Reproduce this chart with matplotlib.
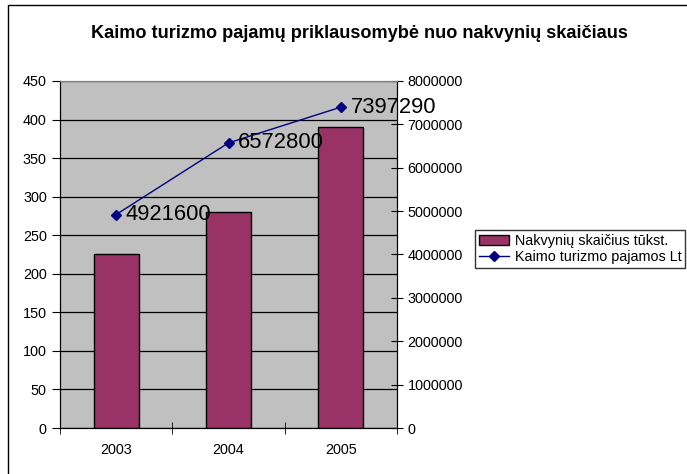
import matplotlib
matplotlib.use("Agg")
import matplotlib.pyplot as plt
from matplotlib.patches import Rectangle
from matplotlib.ticker import FuncFormatter
import numpy as np

years = ["2003", "2004", "2005"]
nakvynes = [225, 280, 390]
pajamos = [4921600, 6572800, 7397290]

plt.rcParams['font.family'] = ['Liberation Sans', 'DejaVu Sans']

fig = plt.figure(figsize=(6.87, 4.74), dpi=100)
ax = fig.add_axes([60/687, 1-428/474, 337/687, 347/474])
ax2 = ax.twinx()

# frame around the chart
fig.patches.append(Rectangle((8/687, -0.05), 1.2, 1-5/474+0.05, transform=fig.transFigure,
                             fill=False, edgecolor='black', linewidth=1, zorder=0))

x = np.arange(len(years))
ax.set_facecolor('#C0C0C0')
bars = ax.bar(x, nakvynes, width=0.4, color='#993366', edgecolor='black', linewidth=1,
              label='Nakvynių skaičius tūkst.', zorder=3)
ax.set_ylim(0, 450)
ax.set_yticks(np.arange(0, 451, 50))
ax.set_xlim(-0.5, 2.5)
ax.set_xticks(x)
ax.set_xticklabels(years)
ax.set_xticks([-0.5, 0.5, 1.5, 2.5], minor=True)
ax.tick_params(axis='x', which='major', length=0, pad=11, labelsize=10.4)
ax.tick_params(axis='x', which='minor', direction='inout', length=8)
ax.tick_params(axis='y', direction='out', length=6, labelsize=10.4)
ax.grid(axis='y', color='black', linewidth=0.9, zorder=1)
ax.set_axisbelow(True)

line, = ax2.plot(x, pajamos, color='#000080', marker='D', markersize=4.8, linewidth=1,
                 label='Kaimo turizmo pajamos Lt', zorder=5)
ax2.set_ylim(0, 8000000)
ax2.set_yticks(np.arange(0, 8000001, 1000000))
ax2.yaxis.set_major_formatter(FuncFormatter(lambda v, p: '%d' % v))
ax2.tick_params(axis='y', direction='inout', length=8, labelsize=10.4)
for xi, v in zip(x, pajamos):
    ax2.annotate(str(v), (xi, v), xytext=(7, 0), textcoords='offset points',
                 fontsize=15.8, va='center', ha='left', zorder=6)

for a in (ax, ax2):
    a.spines['top'].set_color('#808080')
    a.spines['left'].set_color('black')
    a.spines['right'].set_color('black')
    a.spines['bottom'].set_color('black')

fig.text(359/687, 1-33/474, 'Kaimo turizmo pajamų priklausomybė nuo nakvynių skaičiaus',
         ha='center', va='center', fontsize=13.1, fontweight='bold')

leg = fig.legend([bars, line], ['Nakvynių skaičius tūkst.', 'Kaimo turizmo pajamos Lt'],
                 loc='upper left', bbox_to_anchor=(475/687, 1-230/474), fontsize=10.4,
                 frameon=True, fancybox=False, shadow=False, borderpad=0.25,
                 handlelength=2.1, handletextpad=0.4, labelspacing=0.2, borderaxespad=0)
leg.get_frame().set_edgecolor('black')
leg.get_frame().set_linewidth(1)

fig.savefig('out.png', dpi=100)
